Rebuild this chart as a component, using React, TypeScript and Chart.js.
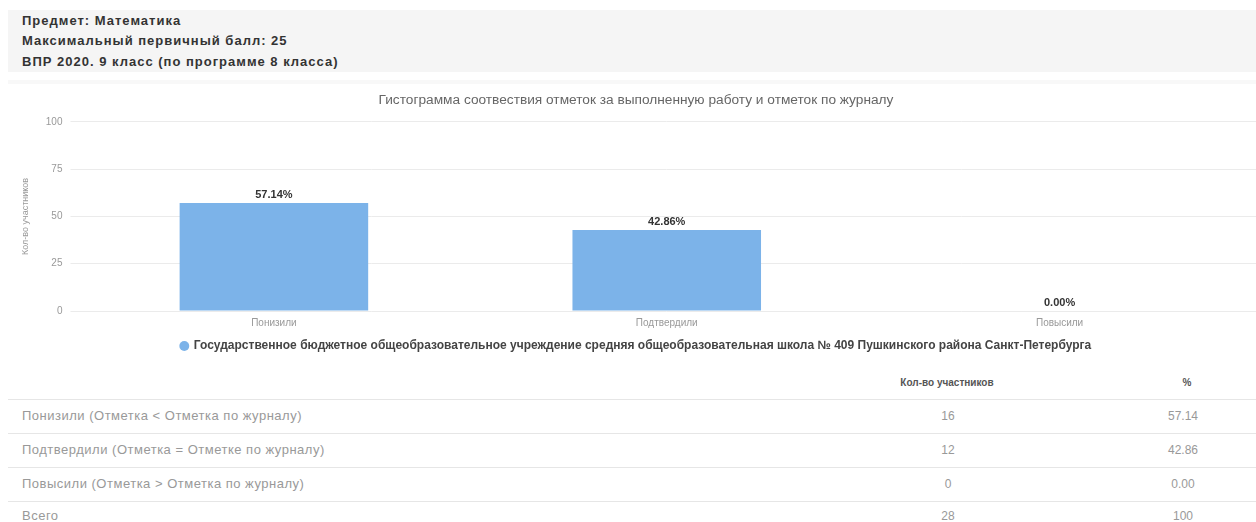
import React, { useEffect, useRef } from "react";
import { Chart, registerables } from "chart.js";

Chart.register(...registerables);

const headerLines = [
  "Предмет: Математика",
  "Максимальный первичный балл: 25",
  "ВПР 2020. 9 класс (по программе 8 класса)",
];
const chartTitle = "Гистограмма соотвествия отметок за выполненную работу и отметок по журналу";
const categories = ["Понизили", "Подтвердили", "Повысили"];
const percentValues = [57.14, 42.86, 0];
const seriesName =
  "Государственное бюджетное общеобразовательное учреждение средняя общеобразовательная школа № 409 Пушкинского района Санкт-Петербурга";
const yTitle = "Кол-во участников";
const tableHeaders = ["Кол-во участников", "%"];
const tableRowLabels = [
  "Понизили (Отметка < Отметка по журналу)",
  "Подтвердили (Отметка = Отметке по журналу)",
  "Повысили (Отметка > Отметка по журналу)",
  "Всего",
];
const tableCounts = ["16", "12", "0", "28"];
const tablePercents = ["57.14", "42.86", "0.00", "100"];

const FONT = '"Liberation Sans", Arial, sans-serif';

const valueLabelPlugin = {
  id: "valueLabels",
  afterDatasetsDraw(chart: any) {
    const ctx = chart.ctx;
    const meta = chart.getDatasetMeta(0);
    ctx.save();
    ctx.font = `bold 11px ${FONT}`;
    ctx.fillStyle = "#333";
    ctx.textAlign = "center";
    ctx.textBaseline = "bottom";
    meta.data.forEach((bar: any, i: number) => {
      const v = chart.data.datasets[0].data[i] as number;
      ctx.fillText(`${v.toFixed(2)}%`, bar.x, bar.y - 3);
    });
    ctx.restore();
  },
};

function BarChart() {
  const ref = useRef<HTMLCanvasElement>(null);
  useEffect(() => {
    if (!ref.current) return;
    const chart = new Chart(ref.current, {
      type: "bar",
      data: {
        labels: categories,
        datasets: [
          {
            label: seriesName,
            data: percentValues,
            backgroundColor: "#7cb3e9",
            borderWidth: 0,
            categoryPercentage: 0.8,
            barPercentage: 0.6,
          },
        ],
      },
      options: {
        responsive: false,
        animation: false,
        layout: { padding: { left: 8, right: 0, top: 0, bottom: 2 } },
        plugins: {
          title: {
            display: true,
            text: chartTitle,
            color: "#666",
            font: { family: FONT, size: 13.7, weight: "normal" },
            padding: { top: 7, bottom: 13.5 },
          },
          legend: {
            position: "bottom",
            labels: {
              usePointStyle: true,
              pointStyle: "circle",
              boxWidth: 7,
              boxHeight: 7,
              padding: 5,
              color: "#444",
              font: { family: FONT, size: 12, weight: "bold" },
            },
          },
          tooltip: { enabled: false },
        },
        scales: {
          x: {
            grid: { display: false, drawTicks: false },
            border: { display: false },
            ticks: { color: "#999", font: { family: FONT, size: 10 }, padding: 6 },
          },
          y: {
            min: 0,
            max: 100,
            ticks: { stepSize: 25, color: "#999", font: { family: FONT, size: 10 }, padding: 8 },
            grid: { color: "#ebebeb", tickLength: 7 },
            border: { display: false },
            title: {
              display: true,
              text: yTitle,
              color: "#999",
              font: { family: FONT, size: 9 },
              padding: { top: 4, bottom: 7 },
            },
          },
        },
      },
      plugins: [valueLabelPlugin],
    });
    return () => chart.destroy();
  }, []);
  return <canvas ref={ref} width={1248} height={279} />;
}

export default function App() {
  const rowSeps = [399, 433, 467, 501];
  const rowCenters = [416, 450, 484, 516];
  const cell = (left: number, width: number, top: number): React.CSSProperties => ({
    position: "absolute",
    left,
    width,
    top,
    textAlign: "center",
    fontSize: 12,
    lineHeight: "16px",
    color: "#999",
  });
  return (
    <div
      style={{
        position: "absolute",
        left: 0,
        top: 0,
        width: 1256,
        height: 522,
        background: "#fff",
        overflow: "hidden",
        fontFamily: FONT,
      }}
    >
      <div
        style={{
          position: "absolute",
          left: 8,
          top: 10,
          width: 1248,
          height: 62,
          background: "#f5f5f5",
        }}
      />
      <div style={{ position: "absolute", left: 8, top: 80, width: 1248, height: 4, background: "#f8f8f8" }} />
      {headerLines.map((t, i) => (
        <div
          key={t}
          style={{
            position: "absolute",
            left: 22,
            top: [21, 41, 62][i] - 8,
            fontSize: 13,
            lineHeight: "16px",
            letterSpacing: "1px",
            fontWeight: "bold",
            color: "#333",
            whiteSpace: "nowrap",
          }}
        >
          {t}
        </div>
      ))}
      <div style={{ position: "absolute", left: 8, top: 85, width: 1248, height: 279 }}>
        <BarChart />
      </div>
      <div style={{ ...cell(847, 200, 375), fontSize: 10, fontWeight: 600, color: "#555" }}>{tableHeaders[0]}</div>
      <div style={{ ...cell(1137, 100, 375), fontSize: 10, fontWeight: 600, color: "#555" }}>{tableHeaders[1]}</div>
      {rowSeps.map((y) => (
        <div key={y} style={{ position: "absolute", left: 8, top: y, width: 1248, height: 1, background: "#e6e6e6" }} />
      ))}
      {tableRowLabels.map((t, i) => (
        <React.Fragment key={t}>
          <div
            style={{
              position: "absolute",
              left: 22,
              top: rowCenters[i] - 8,
              fontSize: 13,
              letterSpacing: "0.5px",
              lineHeight: "16px",
              color: "#999",
              whiteSpace: "nowrap",
            }}
          >
            {t}
          </div>
          <div style={cell(898, 100, rowCenters[i] - 8)}>{tableCounts[i]}</div>
          <div style={cell(1133, 100, rowCenters[i] - 8)}>{tablePercents[i]}</div>
        </React.Fragment>
      ))}
    </div>
  );
}
